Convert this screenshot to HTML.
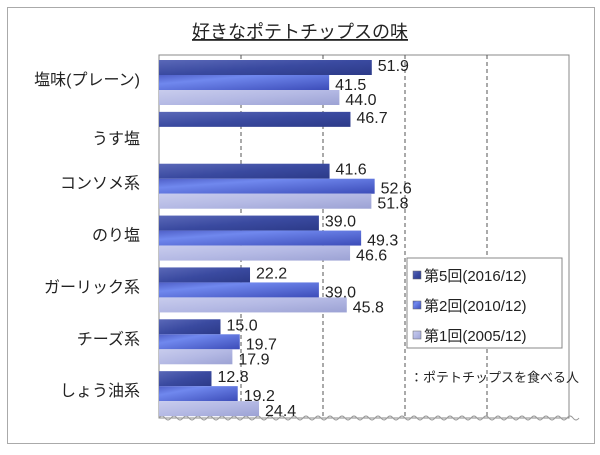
<!DOCTYPE html>
<html><head><meta charset="utf-8"><style>
body{margin:0;background:#fff;}
svg text{font-family:"Liberation Sans","Noto Sans CJK JP",sans-serif;}
</style></head><body>
<svg width="600" height="450" viewBox="0 0 600 450">
<defs>
<linearGradient id="g0" x1="0" x2="1" y1="0" y2="1"><stop offset="0" stop-color="#5a68b8"/><stop offset="0.5" stop-color="#3a4aa0"/><stop offset="1" stop-color="#2c3a88"/></linearGradient>
<linearGradient id="g1" x1="0" x2="1" y1="0" y2="1"><stop offset="0" stop-color="#5060c8"/><stop offset="0.3" stop-color="#7088ee"/><stop offset="1" stop-color="#3c4cb8"/></linearGradient>
<linearGradient id="g2" x1="0" x2="1" y1="0" y2="1"><stop offset="0" stop-color="#c8cced"/><stop offset="0.5" stop-color="#b4b9e4"/><stop offset="1" stop-color="#9ca2d4"/></linearGradient>
</defs>
<rect x="7.5" y="7.5" width="587" height="436" fill="#fff" stroke="#aaa"/>
<text x="300" y="38" font-size="18" text-anchor="middle" fill="#222" text-decoration="underline">好きなポテトチップスの味</text>
<g id="plot"></g>
<rect x="407" y="258" width="155" height="90" fill="#fff" stroke="#888"/>
<g id="legend"></g>
<text x="410" y="382" font-size="13" fill="#222">：ポテトチップスを食べる人</text>
</svg>
<script>
const categories=["塩味(プレーン)","うす塩","コンソメ系","のり塩","ガーリック系","チーズ系","しょう油系"];
const series5=[51.9,46.7,41.6,39.0,22.2,15.0,12.8];
const series2=[41.5,null,52.6,49.3,39.0,19.7,19.2];
const series1=[44.0,null,51.8,46.6,45.8,17.9,24.4];
const seriesNames=["第5回(2016/12)","第2回(2010/12)","第1回(2005/12)"];
const gridTicks=[20,40,60,80];
const NS="http://www.w3.org/2000/svg";
const L=159,R=569,T=55,B=418;
const x=v=>L+(R-L)*v/100;
const gh=(B-T)/categories.length;
const y=(i,s)=>T+i*gh+5+s*15;
const plot=document.getElementById('plot');
function mk(tag,a,p){const e=document.createElementNS(NS,tag);for(const k in a)e.setAttribute(k,a[k]);(p||plot).appendChild(e);return e;}
const pa=mk('rect',{x:L,y:T,width:R-L,height:B-T,fill:'#fff',stroke:'#888'});


gridTicks.forEach(t=>{const g=mk('line',{x1:x(t),x2:x(t),y1:T,y2:B,stroke:'#555','stroke-dasharray':'4,3'});

});
let d='M'+L+' '+B;for(let px=L;px<R;px+=12){d+=' q3 -4 6 0 q3 4 6 0';}
const w=mk('path',{d:d,fill:'none',stroke:'#999'});


const all=[series5,series2,series1];
categories.forEach((c,i)=>{
 const t=mk('text',{x:140,y:T+i*gh+(i==1?37:30),'font-size':16,'text-anchor':'end',fill:'#222'});t.textContent=c;
 
 
 all.forEach((s,k)=>{const v=s[i];if(v==null)return;
  const b=mk('rect',{x:L,y:y(i,k),width:x(v)-L,height:15,fill:'url(#g'+k+')'});
  
  
  const lt=mk('text',{x:x(v)+6,y:y(i,k)+12+(k==0?-1:3),'font-size':16,fill:'#222'});lt.textContent=v.toFixed(1);
  
  
 });
});
const lg=document.getElementById('legend');
seriesNames.forEach((n,k)=>{
 const sw=mk('rect',{x:413,y:271+k*30,width:8,height:8,fill:'url(#g'+k+')',stroke:'#666','stroke-width':0.5},lg);
 
 
 const t=mk('text',{x:424,y:281+k*30,'font-size':15,fill:'#222'},lg);t.textContent=n;
 
 
});
</script>
</body></html>
